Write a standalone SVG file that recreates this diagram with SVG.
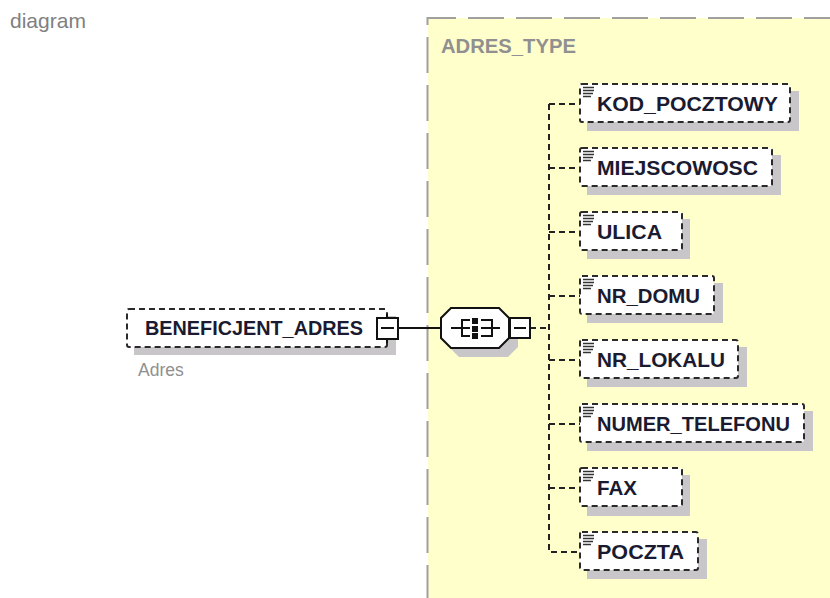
<svg xmlns="http://www.w3.org/2000/svg" width="830" height="598" viewBox="0 0 830 598">
<style>
.t{font-family:"Liberation Sans",Arial,sans-serif}
.n{font-size:20.5px;font-weight:bold;fill:#1a1a30}
.box{fill:#fff;stroke:#2a2a2a;stroke-width:2;stroke-dasharray:6 4}
.sh{fill:#c8c6c8}
.c{fill:none;stroke:#222;stroke-width:2;stroke-dasharray:6 4}
.s{fill:none;stroke:#111;stroke-width:2}
.ic{stroke:#333;stroke-width:1.6;fill:none}
.b{fill:none;stroke:#a0a0a0;stroke-width:2}
.bd{stroke-dasharray:36 12}
</style>
<defs>
<g id="doc"><path class="ic" d="M0 0.5H11M0 3.5H11M0 6.5H10M0 9.5H8"/></g>
</defs>
<rect width="830" height="598" fill="#fff"/>
<text class="t" x="10" y="28" font-size="21" fill="#808080">diagram</text>
<g id="adres_type">
<rect x="428" y="18" width="402" height="580" fill="#ffffcc"/>
<path class="b" d="M427.5 25V18H456"/>
<path class="b bd" d="M468 18H830"/>
<path class="b bd" d="M427.5 37V598"/>
<text class="t" x="441" y="53" font-size="20" font-weight="bold" fill="#909090" textLength="135" lengthAdjust="spacingAndGlyphs">ADRES_TYPE</text>
</g>
<g id="connectors">
<path class="s" d="M398 328H441"/>
<path class="c" d="M530 328H549"/>
<path class="c" d="M549 104V552H580"/>
<path class="c" d="M549 104H580M549 168H580M549 232H580M549 296H580M549 360H580M549 424H580M549 488H580"/>
</g>
<g id="beneficjent_adres">
<rect class="sh" x="134" y="316" width="262" height="39"/>
<rect class="box" x="127" y="309" width="260" height="38" rx="2"/>
<text class="t n" x="145" y="335" textLength="218" lengthAdjust="spacingAndGlyphs">BENEFICJENT_ADRES</text>
<rect x="377" y="318" width="21" height="21" fill="#fff" stroke="#111" stroke-width="2"/>
<path class="s" d="M381 328H394M387 314V318M387 339V343"/>
<text class="t" x="138" y="376" font-size="17.5" fill="#909090">Adres</text>
</g>
<g id="sequence">
<path class="sh" d="M459 317H508L518 327V347L508 357H459L449 347V327Z"/>
<path d="M451 308H499L509 318V338L499 348H451L441 338V318Z" fill="#fff" stroke="#111" stroke-width="2"/>
<path class="s" d="M451 328H470M481 328H500M470 320H462V336H470M481 320H492V336H481"/>
<rect x="472" y="318" width="6" height="6" fill="#111"/><rect x="472" y="326" width="6" height="6" fill="#111"/><rect x="472" y="333" width="6" height="6" fill="#111"/>
<rect x="510" y="318" width="20" height="20" fill="#fff" stroke="#111" stroke-width="2"/>
<path class="s" d="M514 328H526"/>
</g>
<g id="kod_pocztowy"><rect class="sh" x="587" y="91" width="212" height="40"/><rect class="box" x="580" y="84" width="210" height="38" rx="2"/><use href="#doc" x="583" y="87"/><text class="t n" x="597" y="111" textLength="181" lengthAdjust="spacingAndGlyphs">KOD_POCZTOWY</text></g>
<g id="miejscowosc"><rect class="sh" x="587" y="155" width="194" height="40"/><rect class="box" x="580" y="148" width="192" height="38" rx="2"/><use href="#doc" x="583" y="151"/><text class="t n" x="597" y="175" textLength="161" lengthAdjust="spacingAndGlyphs">MIEJSCOWOSC</text></g>
<g id="ulica"><rect class="sh" x="587" y="219" width="103" height="40"/><rect class="box" x="580" y="212" width="102" height="38" rx="2"/><use href="#doc" x="583" y="215"/><text class="t n" x="597" y="239" textLength="65" lengthAdjust="spacingAndGlyphs">ULICA</text></g>
<g id="nr_domu"><rect class="sh" x="587" y="283" width="136" height="40"/><rect class="box" x="580" y="276" width="134" height="38" rx="2"/><use href="#doc" x="583" y="279"/><text class="t n" x="597" y="303" textLength="103" lengthAdjust="spacingAndGlyphs">NR_DOMU</text></g>
<g id="nr_lokalu"><rect class="sh" x="587" y="347" width="160" height="40"/><rect class="box" x="580" y="340" width="158" height="38" rx="2"/><use href="#doc" x="583" y="343"/><text class="t n" x="597" y="367" textLength="128" lengthAdjust="spacingAndGlyphs">NR_LOKALU</text></g>
<g id="numer_telefonu"><rect class="sh" x="587" y="411" width="226" height="40"/><rect class="box" x="580" y="404" width="224" height="38" rx="2"/><use href="#doc" x="583" y="407"/><text class="t n" x="597" y="431" textLength="193" lengthAdjust="spacingAndGlyphs">NUMER_TELEFONU</text></g>
<g id="fax"><rect class="sh" x="587" y="475" width="103" height="41"/><rect class="box" x="580" y="468" width="102" height="38" rx="2"/><use href="#doc" x="583" y="471"/><text class="t n" x="597" y="495" textLength="40" lengthAdjust="spacingAndGlyphs">FAX</text></g>
<g id="poczta"><rect class="sh" x="587" y="539" width="120" height="40"/><rect class="box" x="580" y="532" width="118" height="38" rx="2"/><use href="#doc" x="583" y="535"/><text class="t n" x="597" y="559" textLength="87" lengthAdjust="spacingAndGlyphs">POCZTA</text></g>
</svg>
